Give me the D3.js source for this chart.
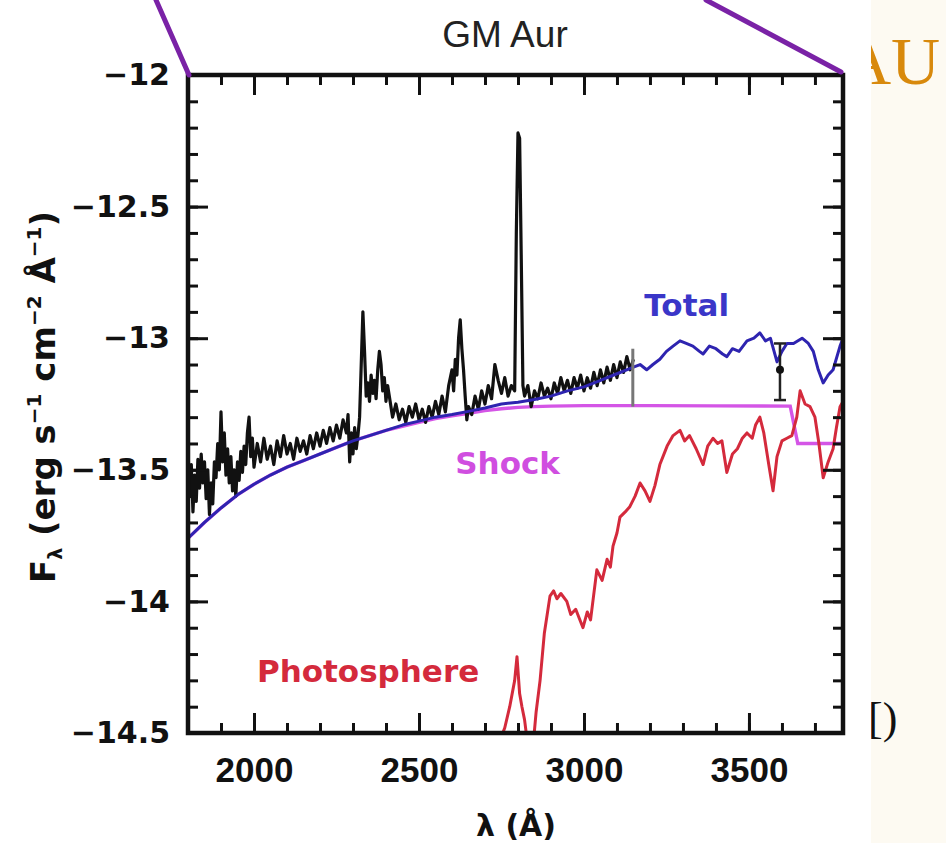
<!DOCTYPE html>
<html>
<head>
<meta charset="utf-8">
<script src="https://cdn.jsdelivr.net/npm/d3@7"></script>
<style>
    body { margin: 0; background: #ffffff; }
    svg { display: block; }
</style>
</head>
<body>
<div id="chartContainer"></div>
<script>
'use strict';

// observed spectrum [wavelength (A), log flux]
const observed = [
    [1800, -13.42], [1805, -13.60], [1810, -13.48], [1815, -13.66], [1820, -13.52], [1825, -13.62],
    [1830, -13.46], [1835, -13.57], [1840, -13.44], [1845, -13.55], [1850, -13.47], [1855, -13.61],
    [1860, -13.50], [1865, -13.67], [1870, -13.55], [1875, -13.63], [1880, -13.47], [1885, -13.53],
    [1890, -13.40], [1895, -13.50], [1900, -13.28], [1905, -13.47], [1910, -13.36], [1915, -13.52],
    [1920, -13.42], [1925, -13.55], [1930, -13.45], [1935, -13.58], [1940, -13.50], [1945, -13.60],
    [1950, -13.47], [1955, -13.54], [1960, -13.43], [1965, -13.51], [1970, -13.41], [1975, -13.48],
    [1980, -13.36], [1985, -13.30], [1990, -13.45], [1995, -13.38], [2000, -13.49], [2010, -13.40],
    [2020, -13.47], [2030, -13.38], [2040, -13.46], [2050, -13.41], [2060, -13.48], [2070, -13.39],
    [2080, -13.45], [2090, -13.37], [2100, -13.44], [2110, -13.40], [2120, -13.46], [2130, -13.38],
    [2140, -13.43], [2150, -13.39], [2160, -13.44], [2170, -13.37], [2180, -13.42], [2190, -13.36],
    [2200, -13.41], [2210, -13.35], [2220, -13.40], [2230, -13.34], [2240, -13.39], [2250, -13.33],
    [2260, -13.38], [2270, -13.31], [2280, -13.36], [2285, -13.29], [2290, -13.47], [2295, -13.36],
    [2300, -13.44], [2305, -13.34], [2310, -13.42], [2315, -13.37], [2320, -13.30], [2325, -13.10],
    [2330, -12.90], [2335, -13.05], [2340, -13.22], [2345, -13.17], [2350, -13.24], [2355, -13.14],
    [2360, -13.21], [2365, -13.16], [2370, -13.23], [2375, -13.12], [2380, -13.05], [2385, -13.10],
    [2390, -13.20], [2395, -13.15], [2400, -13.24], [2405, -13.18], [2410, -13.22], [2420, -13.30],
    [2430, -13.25], [2440, -13.31], [2450, -13.27], [2460, -13.32], [2470, -13.26], [2480, -13.30],
    [2490, -13.25], [2500, -13.31], [2510, -13.27], [2520, -13.32], [2530, -13.26], [2540, -13.30],
    [2550, -13.24], [2560, -13.29], [2570, -13.22], [2580, -13.28], [2590, -13.18], [2600, -13.12],
    [2605, -13.20], [2610, -13.08], [2615, -13.14], [2620, -13.00], [2625, -12.93], [2630, -13.04],
    [2635, -13.12], [2640, -13.22], [2645, -13.31], [2650, -13.26], [2660, -13.29], [2670, -13.22],
    [2680, -13.27], [2690, -13.20], [2700, -13.25], [2710, -13.18], [2720, -13.23], [2730, -13.10],
    [2740, -13.16], [2750, -13.21], [2760, -13.15], [2770, -13.22], [2780, -13.18], [2790, -13.20],
    [2795, -12.60], [2800, -12.22], [2805, -12.24], [2810, -12.70], [2815, -13.18], [2820, -13.22],
    [2830, -13.18], [2840, -13.26], [2850, -13.20], [2860, -13.23], [2870, -13.17], [2880, -13.22],
    [2890, -13.19], [2900, -13.23], [2910, -13.17], [2920, -13.21], [2930, -13.15], [2940, -13.20],
    [2950, -13.16], [2960, -13.21], [2970, -13.15], [2980, -13.19], [2990, -13.14], [3000, -13.20],
    [3010, -13.15], [3020, -13.19], [3030, -13.13], [3040, -13.18], [3050, -13.12], [3060, -13.17],
    [3070, -13.11], [3080, -13.16], [3090, -13.10], [3100, -13.15], [3110, -13.09], [3120, -13.13],
    [3130, -13.07], [3140, -13.12], [3150, -13.08]
];

// shock model
const shock = [
    [1800, -13.76], [1850, -13.70], [1900, -13.645], [1950, -13.595], [2000, -13.555], [2050, -13.52],
    [2100, -13.49], [2150, -13.465], [2200, -13.44], [2250, -13.415], [2300, -13.39], [2350, -13.37],
    [2400, -13.35], [2450, -13.335], [2500, -13.32], [2550, -13.305], [2600, -13.295], [2650, -13.285],
    [2700, -13.275], [2750, -13.268], [2800, -13.263], [2850, -13.26], [2900, -13.258], [3000, -13.256],
    [3200, -13.256], [3400, -13.257], [3625, -13.258], [3648, -13.40], [3785, -13.40]
];

// total model (shock + photosphere)
const total = [
    [1800, -13.76], [1850, -13.70], [1900, -13.645], [1950, -13.595], [2000, -13.555], [2050, -13.52],
    [2100, -13.49], [2150, -13.465], [2200, -13.44], [2250, -13.415], [2300, -13.39], [2350, -13.37],
    [2400, -13.35], [2450, -13.33], [2500, -13.315], [2550, -13.30], [2600, -13.29], [2650, -13.278],
    [2700, -13.265], [2750, -13.25], [2800, -13.243], [2850, -13.233], [2900, -13.22], [2950, -13.20],
    [3000, -13.185], [3050, -13.16], [3100, -13.135], [3150, -13.11], [3170, -13.10], [3190, -13.12],
    [3209, -13.10], [3230, -13.08], [3250, -13.05], [3270, -13.03], [3291, -13.01], [3310, -13.02],
    [3330, -13.03], [3350, -13.05], [3361, -13.06], [3380, -13.03], [3400, -13.04], [3420, -13.06],
    [3433, -13.07], [3450, -13.04], [3470, -13.05], [3494, -13.01], [3515, -13.00], [3533, -12.98],
    [3550, -13.01], [3565, -13.00], [3585, -13.09], [3600, -13.05], [3615, -13.02], [3635, -13.02],
    [3661, -13.00], [3680, -13.02], [3695, -13.05], [3710, -13.12], [3725, -13.17], [3740, -13.14],
    [3755, -13.12], [3776, -13.03], [3785, -13.00]
];

// photosphere model
const photosphere = [
    [2745, -14.53], [2760, -14.48], [2775, -14.40], [2790, -14.30], [2797, -14.21], [2805, -14.35],
    [2812, -14.40], [2820, -14.45], [2830, -14.55], [2845, -14.56], [2855, -14.42], [2867, -14.30],
    [2880, -14.12], [2897, -13.98], [2908, -13.96], [2918, -13.99], [2930, -13.97], [2948, -14.00],
    [2960, -14.05], [2975, -14.03], [2997, -14.10], [3010, -14.04], [3020, -14.07], [3039, -13.88],
    [3055, -13.92], [3070, -13.84], [3080, -13.87], [3088, -13.79], [3100, -13.74], [3109, -13.68],
    [3125, -13.66], [3139, -13.64], [3155, -13.60], [3170, -13.55], [3185, -13.58], [3200, -13.62],
    [3215, -13.56], [3230, -13.48], [3252, -13.41], [3270, -13.37], [3291, -13.35], [3305, -13.39],
    [3320, -13.37], [3340, -13.42], [3361, -13.48], [3375, -13.41], [3391, -13.38], [3405, -13.40],
    [3418, -13.39], [3433, -13.51], [3450, -13.44], [3465, -13.42], [3480, -13.38], [3494, -13.36],
    [3510, -13.38], [3520, -13.33], [3533, -13.30], [3545, -13.36], [3560, -13.48], [3573, -13.58],
    [3585, -13.45], [3600, -13.39], [3615, -13.38], [3630, -13.37], [3645, -13.30], [3655, -13.20],
    [3670, -13.25], [3685, -13.26], [3700, -13.30], [3712, -13.40], [3725, -13.53], [3740, -13.47],
    [3755, -13.42], [3765, -13.34], [3776, -13.26], [3785, -13.24]
];

// error bars [wavelength, low, high, point]
const errorBars = [
    [3594, -13.235, -13.02, -13.12]
];
const greyBars = [
    [3148, -13.26, -13.04]
];

const xMajorTicks = [2000, 2500, 3000, 3500];
const yMajorTicks = [-14.5, -14, -13.5, -13, -12.5, -12];

const seriesLabels = [
    { name: "Total", color: "#3a36c8", wave: 3183, flux: -12.915 },
    { name: "Shock", color: "#d04ee0", wave: 2610, flux: -13.515 },
    { name: "Photosphere", color: "#d42a3c", wave: 2009, flux: -14.306 }
];

const width = 946, height = 843;
const plotLeft = 188, plotRight = 843, plotTop = 75, plotBottom = 733;

const svg = d3.select("#chartContainer")
    .append("svg")
    .attr("width", width)
    .attr("height", height);

// page behind the figure: cream column on the right with clipped slide text
svg.append("rect")
    .attr("x", 0).attr("y", 0)
    .attr("width", width).attr("height", height)
    .attr("fill", "#fdfaf2");

svg.append("text")
    .attr("x", 842).attr("y", 84)
    .style("font-family", "'Liberation Serif', 'DejaVu Serif', serif")
    .style("font-size", "68px")
    .attr("fill", "#d8890c")
    .text("AU");

svg.append("text")
    .attr("x", 868).attr("y", 733)
    .style("font-family", "'Liberation Serif', 'DejaVu Serif', serif")
    .style("font-size", "44px")
    .attr("fill", "#111")
    .text("[)");

// white figure area
svg.append("rect")
    .attr("x", 0).attr("y", 0)
    .attr("width", 871).attr("height", height)
    .attr("fill", "#ffffff");

const x = d3.scaleLinear().domain([1800, 3785]).range([plotLeft, plotRight]);
const y = d3.scaleLinear().domain([-14.5, -12]).range([plotBottom, plotTop]);

svg.append("clipPath")
    .attr("id", "plotClip")
    .append("rect")
    .attr("x", plotLeft).attr("y", plotTop)
    .attr("width", plotRight - plotLeft).attr("height", plotBottom - plotTop);

const line = d3.line()
    .x(d => x(d[0]))
    .y(d => y(d[1]));

const plot = svg.append("g").attr("clip-path", "url(#plotClip)");

// series
plot.append("path")
    .datum(shock)
    .attr("d", line)
    .attr("fill", "none")
    .attr("stroke", "#d455e6")
    .attr("stroke-width", 3.4);

plot.append("path")
    .datum(photosphere)
    .attr("d", line)
    .attr("fill", "none")
    .attr("stroke", "#d42a3c")
    .attr("stroke-width", 3)
    .attr("stroke-linejoin", "round");

plot.append("path")
    .datum(observed)
    .attr("d", line)
    .attr("fill", "none")
    .attr("stroke", "#111")
    .attr("stroke-width", 3.2)
    .attr("stroke-linejoin", "round");

plot.append("path")
    .datum(total)
    .attr("d", line)
    .attr("fill", "none")
    .attr("stroke", "#2e24b0")
    .attr("stroke-width", 3)
    .attr("stroke-linejoin", "round");

// error bars
plot.selectAll(".grey-bar")
    .data(greyBars)
    .enter()
    .append("line")
    .attr("class", "grey-bar")
    .attr("x1", d => x(d[0])).attr("x2", d => x(d[0]))
    .attr("y1", d => y(d[1])).attr("y2", d => y(d[2]))
    .attr("stroke", "#777")
    .attr("stroke-width", 3);

const bars = plot.selectAll(".err-bar")
    .data(errorBars)
    .enter()
    .append("g")
    .attr("class", "err-bar");

bars.append("line")
    .attr("x1", d => x(d[0])).attr("x2", d => x(d[0]))
    .attr("y1", d => y(d[1])).attr("y2", d => y(d[2]))
    .attr("stroke", "#222").attr("stroke-width", 2.5);
bars.append("line")
    .attr("x1", d => x(d[0]) - 6).attr("x2", d => x(d[0]) + 6)
    .attr("y1", d => y(d[1])).attr("y2", d => y(d[1]))
    .attr("stroke", "#222").attr("stroke-width", 2.5);
bars.append("line")
    .attr("x1", d => x(d[0]) - 6).attr("x2", d => x(d[0]) + 6)
    .attr("y1", d => y(d[2])).attr("y2", d => y(d[2]))
    .attr("stroke", "#222").attr("stroke-width", 2.5);
bars.append("circle")
    .attr("cx", d => x(d[0])).attr("cy", d => y(d[3]))
    .attr("r", 4).attr("fill", "#111");

// series labels
svg.selectAll(".series-label")
    .data(seriesLabels)
    .enter()
    .append("text")
    .attr("class", "series-label")
    .attr("x", d => x(d.wave))
    .attr("y", d => y(d.flux))
    .attr("fill", d => d.color)
    .style("font-family", "'DejaVu Sans', Verdana, sans-serif")
    .style("font-weight", "bold")
    .style("font-size", "31px")
    .text(d => d.name);

// axes: minor and major ticks on all four sides, pointing inward
const xMinor = d3.range(1800, 3785, 100);
const yMinor = d3.range(-145, -119, 1).map(v => v / 10);

const styleAxis = (g) => {
    g.select(".domain").remove();
    g.selectAll(".tick line").attr("stroke", "#111").attr("stroke-width", 3);
};

svg.append("g")
    .attr("transform", "translate(0," + plotBottom + ")")
    .call(d3.axisBottom(x).tickValues(xMinor).tickSizeInner(-10).tickFormat(""))
    .call(styleAxis);
svg.append("g")
    .attr("transform", "translate(0," + plotTop + ")")
    .call(d3.axisTop(x).tickValues(xMinor).tickSizeInner(-10).tickFormat(""))
    .call(styleAxis);
svg.append("g")
    .attr("transform", "translate(" + plotLeft + ",0)")
    .call(d3.axisLeft(y).tickValues(yMinor).tickSizeInner(-10).tickFormat(""))
    .call(styleAxis);
svg.append("g")
    .attr("transform", "translate(" + plotRight + ",0)")
    .call(d3.axisRight(y).tickValues(yMinor).tickSizeInner(-10).tickFormat(""))
    .call(styleAxis);

const xAxis = svg.append("g")
    .attr("transform", "translate(0," + plotBottom + ")")
    .call(d3.axisBottom(x).tickValues(xMajorTicks).tickSizeInner(-20).tickPadding(24).tickFormat(d3.format("d")))
    .call(styleAxis);
xAxis.selectAll("text")
    .attr("fill", "#111")
    .style("font-family", "'Liberation Sans', Arial, sans-serif")
    .style("font-weight", "bold")
    .style("font-size", "35px");

svg.append("g")
    .attr("transform", "translate(0," + plotTop + ")")
    .call(d3.axisTop(x).tickValues(xMajorTicks).tickSizeInner(-20).tickFormat(""))
    .call(styleAxis);

const yAxis = svg.append("g")
    .attr("transform", "translate(" + plotLeft + ",0)")
    .call(d3.axisLeft(y).tickValues(yMajorTicks).tickSizeInner(-20).tickPadding(18).tickFormat(d3.format("~g")))
    .call(styleAxis);
yAxis.selectAll("text")
    .attr("fill", "#111")
    .style("font-family", "'DejaVu Sans', Verdana, sans-serif")
    .style("font-weight", "bold")
    .style("font-size", "30px");

svg.append("g")
    .attr("transform", "translate(" + plotRight + ",0)")
    .call(d3.axisRight(y).tickValues(yMajorTicks).tickSizeInner(-20).tickFormat(""))
    .call(styleAxis);

// frame
svg.append("rect")
    .attr("x", plotLeft).attr("y", plotTop)
    .attr("width", plotRight - plotLeft).attr("height", plotBottom - plotTop)
    .attr("fill", "none")
    .attr("stroke", "#111")
    .attr("stroke-width", 4.5);

// title and axis titles
svg.append("text")
    .attr("x", 505).attr("y", 47)
    .attr("text-anchor", "middle")
    .attr("fill", "#222")
    .style("font-family", "'Liberation Sans', Arial, sans-serif")
    .style("font-size", "37px")
    .text("GM Aur");

svg.append("text")
    .attr("x", 516).attr("y", 836)
    .attr("text-anchor", "middle")
    .attr("fill", "#111")
    .style("font-family", "'DejaVu Sans', Verdana, sans-serif")
    .style("font-weight", "bold")
    .style("font-size", "30px")
    .text("λ (Å)");

const yTitle = svg.append("text")
    .attr("transform", "translate(55,397) rotate(-90)")
    .attr("text-anchor", "middle")
    .attr("fill", "#111")
    .style("font-family", "'DejaVu Sans', Verdana, sans-serif")
    .style("font-weight", "bold")
    .style("font-size", "34px");
yTitle.append("tspan").text("F");
yTitle.append("tspan").attr("dy", 7).style("font-size", "19px").text("λ");
yTitle.append("tspan").attr("dy", -7).text(" (erg s");
yTitle.append("tspan").attr("dy", -14).style("font-size", "20px").text("−1");
yTitle.append("tspan").attr("dy", 14).text(" cm");
yTitle.append("tspan").attr("dy", -14).style("font-size", "20px").text("−2");
yTitle.append("tspan").attr("dy", 14).text(" Å");
yTitle.append("tspan").attr("dy", -14).style("font-size", "20px").text("−1");
yTitle.append("tspan").attr("dy", 14).text(")");

// purple pointer lines from the slide
const pointerLines = [
    [[156, 0], [189, 75]],
    [[706, 0], [841, 72]]
];
svg.selectAll(".pointer")
    .data(pointerLines)
    .enter()
    .append("line")
    .attr("class", "pointer")
    .attr("x1", d => d[0][0]).attr("y1", d => d[0][1])
    .attr("x2", d => d[1][0]).attr("y2", d => d[1][1])
    .attr("stroke", "#7a22a6")
    .attr("stroke-width", 5)
    .attr("stroke-linecap", "round");
</script>
</body>
</html>
